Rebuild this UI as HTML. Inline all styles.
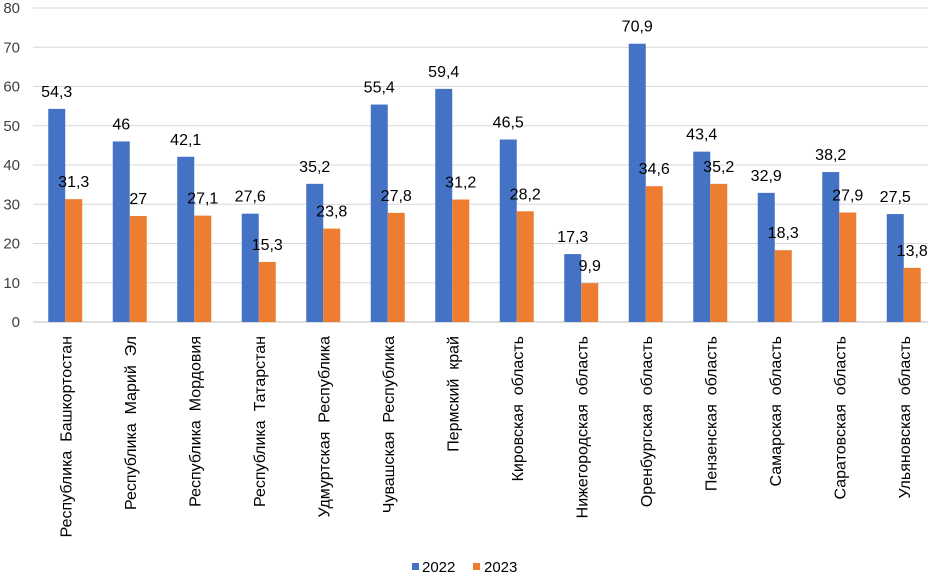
<!DOCTYPE html>
<html><head><meta charset="utf-8"><style>
body{margin:0;background:#fff}
svg{display:block;font-family:"Liberation Sans",Arial,sans-serif}
.xl{white-space:pre}
</style></head><body>
<svg id="chart" width="928" height="574" xmlns="http://www.w3.org/2000/svg">
<g id="grid"></g>
<g id="yaxis"></g>
<g id="bars"></g>
<g id="xaxis"></g>
<g>
 <g><rect x="412" y="563" width="7" height="7" fill="#4472C4"/><text x="422" y="572" font-size="15" fill="#000">2022</text></g>
 <g><rect x="473" y="563" width="7" height="7" fill="#ED7D31"/><text x="484" y="572" font-size="15" fill="#000">2023</text></g>
</g>
</svg>
<script>
const categories=["Республика  Башкортостан","Республика  Марий  Эл","Республика  Мордовия","Республика  Татарстан","Удмуртская  Республика","Чувашская  Республика","Пермский  край","Кировская  область","Нижегородская  область","Оренбургская  область","Пензенская  область","Самарская  область","Саратовская  область","Ульяновская  область"];
const series2022=[54.3,46,42.1,27.6,35.2,55.4,59.4,46.5,17.3,70.9,43.4,32.9,38.2,27.5];
const series2023=[31.3,27,27.1,15.3,23.8,27.8,31.2,28.2,9.9,34.6,35.2,18.3,27.9,13.8];
const yTicks=[0,10,20,30,40,50,60,70,80];
const NS="http://www.w3.org/2000/svg";
const y0=322,y1=8,yMax=80,left=33,band=64.5,bw=17;
const y=v=>y0-(v/yMax)*(y0-y1);
const xc=i=>left+band*(i+0.5);
function mk(tag,attrs,parent,text){const e=document.createElementNS(NS,tag);for(const k in attrs)e.setAttribute(k,attrs[k]);if(text!==undefined)e.textContent=text;parent.appendChild(e);return e;}
const grid=document.getElementById('grid'),ya=document.getElementById('yaxis'),bars=document.getElementById('bars'),xa=document.getElementById('xaxis');
yTicks.forEach(t=>{
 const l=mk('line',{x1:left,x2:928,y1:y(t),y2:y(t),stroke:t===0?'#BFBFBF':'#D9D9D9','stroke-width':1},grid);
 
 
 const tx=mk('text',{x:20,y:y(t)+5,'text-anchor':'end','font-size':15,fill:'#404040'},ya,String(t));
 
 
});
const fmt=v=>String(v).replace('.',',');
categories.forEach((c,i)=>{
 const cx=xc(i);
 const a=series2022[i],b=series2023[i];
 const r1=mk('rect',{x:cx-bw,y:y(a),width:bw,height:y0-y(a),fill:'#4472C4'},bars);
 
 
 const r2=mk('rect',{x:cx,y:y(b),width:bw,height:y0-y(b),fill:'#ED7D31'},bars);
 
 
 const t1=mk('text',{x:cx-bw/2,y:y(a)-12,'text-anchor':'middle','font-size':16,fill:'#000'},bars,fmt(a));
 
 
 const t2=mk('text',{x:cx+bw/2,y:y(b)-12,'text-anchor':'middle','font-size':16,fill:'#000'},bars,fmt(b));
 
 
 const xl=mk('text',{x:0,y:0,'class':'xl','text-anchor':'end','font-size':16,fill:'#000',transform:`translate(${cx+6},336) rotate(-90)`},xa,c);
 
 
});
</script>
</body></html>
